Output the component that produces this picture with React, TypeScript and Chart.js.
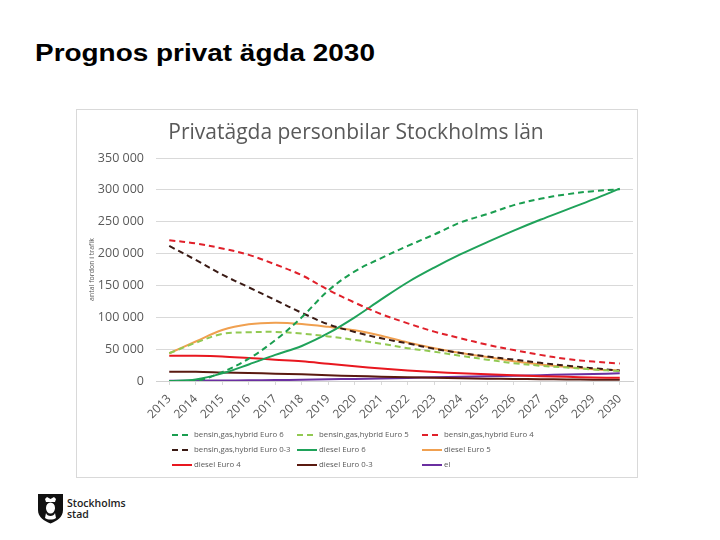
import React, { useEffect, useRef } from "react";
import { Chart, registerables } from "chart.js";

Chart.register(...registerables);

const years = ["2013","2014","2015","2016","2017","2018","2019","2020","2021","2022","2023","2024","2025","2026","2027","2028","2029","2030"];

const bensinEuro6 = [0, 0, 14000, 35000, 64000, 100000, 142000, 172000, 193000, 212000, 230000, 249000, 262000, 276000, 286000, 293000, 298000, 301000];
const bensinEuro5 = [43500, 60000, 74000, 76500, 77000, 74500, 70000, 64500, 58500, 51500, 46000, 39500, 33500, 28000, 24000, 21000, 18000, 15500];
const bensinEuro4 = [221000, 216000, 208000, 198000, 183000, 166000, 143000, 123000, 105000, 90500, 77500, 67000, 57000, 48500, 41000, 34500, 30500, 27500];
const bensinEuro03 = [212000, 190000, 167000, 147000, 127000, 107000, 89000, 77000, 67000, 59000, 50500, 44000, 38500, 33500, 28500, 24000, 20000, 16500];
const dieselEuro6 = [0, 2500, 12000, 26000, 41000, 55000, 75000, 100000, 128000, 155000, 178000, 199000, 218000, 236000, 253000, 269000, 285000, 302000];
const dieselEuro5 = [43500, 62000, 80000, 89000, 91500, 89500, 85000, 79500, 71000, 60500, 51500, 44000, 37500, 31000, 26000, 22000, 18500, 16500];
const dieselEuro4 = [39500, 39500, 38500, 36000, 33500, 31000, 27000, 23000, 19500, 16500, 14000, 12000, 10500, 9000, 7500, 6500, 5500, 5000];
const dieselEuro03 = [14500, 14500, 13500, 12500, 11500, 10500, 9000, 7800, 6800, 5800, 5000, 4300, 3700, 3200, 2800, 2400, 2100, 1800];
const el = [300, 500, 800, 1100, 1500, 2000, 2600, 3300, 4000, 4900, 5700, 6600, 7400, 8300, 9200, 10100, 11000, 12000];

const seriesLabels = [
  "bensin,gas,hybrid Euro 6",
  "bensin,gas,hybrid Euro 5",
  "bensin,gas,hybrid Euro 4",
  "bensin,gas,hybrid Euro 0-3",
  "diesel Euro 6",
  "diesel Euro 5",
  "diesel Euro 4",
  "diesel Euro 0-3",
  "el",
];
const seriesValues = [bensinEuro6, bensinEuro5, bensinEuro4, bensinEuro03, dieselEuro6, dieselEuro5, dieselEuro4, dieselEuro03, el];
const seriesColors = ["#1a9e50", "#92c952", "#e0202a", "#3a1a14", "#1fa25a", "#f0a050", "#e8171f", "#5a1a10", "#6a2fa0"];
const seriesDashed = [true, true, true, true, false, false, false, false, false];

const yTicks = [0, 50000, 100000, 150000, 200000, 250000, 300000, 350000];

const GRAY = "#595959";
const FONT = '"Open Sans", "DejaVu Sans", sans-serif';

const fmt = (v: number) => String(v).replace(/\B(?=(\d{3})+(?!\d))/g, " ");

const gridLegend = {
  id: "gridLegend",
  afterDraw(chart: any) {
    const ctx = chart.ctx;
    const cols = [95, 220, 345];
    const rows = [325, 340, 355];
    chart.data.datasets.forEach((ds: any, i: number) => {
      const x = cols[i % 3];
      const y = rows[Math.floor(i / 3)];
      ctx.save();
      ctx.strokeStyle = ds.borderColor;
      ctx.lineWidth = 2;
      ctx.setLineDash(ds.borderDash || []);
      ctx.beginPath();
      ctx.moveTo(x, y);
      ctx.lineTo(x + 20, y);
      ctx.stroke();
      ctx.setLineDash([]);
      ctx.fillStyle = GRAY;
      ctx.font = `7.8px ${FONT}`;
      ctx.textBaseline = "middle";
      ctx.textAlign = "left";
      ctx.fillText(ds.label, x + 22, y);
      ctx.restore();
    });
  },
};

function ChartBox() {
  const ref = useRef<HTMLCanvasElement>(null);
  useEffect(() => {
    if (!ref.current) return;
    const chart = new Chart(ref.current, {
      type: "line",
      data: {
        labels: years,
        datasets: seriesLabels.map((label, i) => ({
          label,
          data: seriesValues[i],
          borderColor: seriesColors[i],
          backgroundColor: seriesColors[i],
          borderWidth: 2,
          borderDash: seriesDashed[i] ? [6, 4] : [],
          pointRadius: 0,
          tension: 0.35,
          fill: false,
        })),
      },
      options: {
        animation: false,
        responsive: true,
        maintainAspectRatio: false,
        devicePixelRatio: 1,
        layout: { padding: { left: 0, right: 2, top: 0, bottom: 51 } },
        plugins: {
          legend: { display: false },
          tooltip: { enabled: false },
          title: {
            display: true,
            text: "Privatägda personbilar Stockholms län",
            color: GRAY,
            font: { family: FONT, size: 21, weight: "normal" },
            padding: { top: 10.2, bottom: 12.6 },
          },
        },
        scales: {
          x: {
            type: "category",
            offset: true,
            grid: { drawOnChartArea: false, drawTicks: true, tickLength: 4, color: "#d9d9d9", offset: false },
            border: { display: true, color: "#d0d0d0", width: 1 },
            ticks: {
              color: GRAY,
              font: { family: FONT, size: 12 },
              minRotation: 45,
              maxRotation: 45,
              padding: 7,
              autoSkip: false,
            },
            afterFit(scale: any) {
              scale.height = 45;
            },
          },
          y: {
            min: 0,
            max: 350000,
            afterBuildTicks(scale: any) {
              scale.ticks = yTicks.map((v) => ({ value: v }));
            },
            grid: { color: "#d9d9d9", drawTicks: false },
            border: { display: false },
            ticks: {
              color: GRAY,
              font: { family: FONT, size: 12.5 },
              padding: 12,
              callback: (v: any) => fmt(Number(v)),
            },
            title: {
              display: true,
              text: "antal fordon i trafik",
              color: GRAY,
              font: { family: FONT, size: 7 },
              padding: { top: 11, bottom: 0 },
            },
            afterFit(scale: any) {
              scale.width = 79;
            },
          },
        },
      },
      plugins: [gridLegend],
    } as any);
    return () => chart.destroy();
  }, []);
  return <canvas ref={ref} />;
}

function Logo() {
  return (
    <div style={{ position: "absolute", left: 37, top: 493, display: "flex", alignItems: "center" }}>
      <svg width="27" height="31" viewBox="0 0 27 31">
        <path d="M1 1 H26 V17 C26 24 20 28 13.5 30.5 C7 28 1 24 1 17 Z" fill="#111" />
        <path d="M8 6 L10 4 L13.5 6 L17 4 L19 6 L18 9 H9 Z" fill="#fff" />
        <ellipse cx="13.5" cy="15" rx="4.5" ry="5.5" fill="#fff" />
        <path d="M9 20 C10 24 17 24 18 20 L19 25 C16 27 11 27 8 25 Z" fill="#fff" />
      </svg>
      <div style={{ marginLeft: 3, fontFamily: FONT, fontSize: 10.5, fontWeight: 600, lineHeight: "11px", color: "#222" }}>
        Stockholms
        <br />
        stad
      </div>
    </div>
  );
}

export default function App() {
  return (
    <div style={{ position: "absolute", left: 0, top: 0, width: 720, height: 540, background: "#fff", overflow: "hidden" }}>
      <div
        style={{
          position: "absolute",
          left: 35,
          top: 41,
          fontFamily: '"Liberation Sans", Arial, sans-serif',
          fontWeight: "bold",
          fontSize: 24.5,
          lineHeight: "24px",
          color: "#000",
          whiteSpace: "nowrap",
          transform: "scaleX(1.14)",
          transformOrigin: "left top",
        }}
      >
        Prognos privat ägda 2030
      </div>
      <div
        style={{
          position: "absolute",
          left: 77,
          top: 110,
          width: 560,
          height: 367,
          outline: "1px solid #d9d9d9",
          background: "#fff",
        }}
      >
        <ChartBox />
      </div>
      <Logo />
    </div>
  );
}
